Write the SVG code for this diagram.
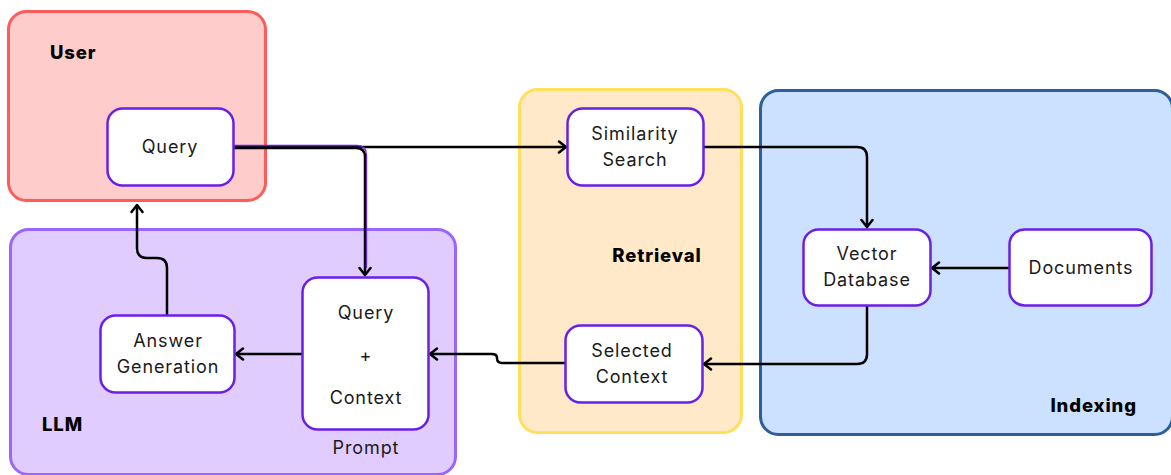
<svg xmlns="http://www.w3.org/2000/svg" width="1171" height="475" viewBox="0 0 1171 475">
  <style>
    .grp { stroke-width: 3; }
    .node { fill: #ffffff; stroke: #6a1fe6; stroke-width: 2.5; }
    .lbl { font-family: Inter, "Open Sans", sans-serif; font-size: 18px; letter-spacing: 0.9px; fill: #1a1a1a; text-anchor: middle; }
    .title { font-family: Inter, "Open Sans", sans-serif; font-size: 18.5px; letter-spacing: 0.9px; font-weight: 800; fill: #000000; }
    .edge { fill: none; stroke: #000000; stroke-width: 2.5; stroke-linejoin: round; }
  </style>
  <defs>
    <marker id="arrow" markerUnits="userSpaceOnUse" viewBox="-10 -7 12 14" markerWidth="12" markerHeight="14" refX="0" refY="0" orient="auto">
      <path d="M-7,-5.5 L0,0 L-7,5.5" fill="none" stroke="#000000" stroke-width="2.5" stroke-linejoin="round" stroke-linecap="round"/>
    </marker>
  </defs>

  <!-- group containers -->
  <g id="group-user">
    <rect class="grp" x="8.5" y="11.5" width="257" height="189" rx="18" fill="#ffcccc" stroke="#ff5b5b"/>
    <text class="title" x="50" y="59">User</text>
  </g>
  <g id="group-llm">
    <rect class="grp" x="10.5" y="229.5" width="445" height="245" rx="18" fill="#e1ccff" stroke="#9966ff"/>
    <text class="title" x="42" y="431">LLM</text>
  </g>
  <g id="group-retrieval">
    <rect class="grp" x="519.5" y="89.5" width="222" height="343" rx="18" fill="#ffe9c8" stroke="#ffdf5c"/>
    <text class="title" x="657" y="262" text-anchor="middle">Retrieval</text>
  </g>
  <g id="group-indexing">
    <rect class="grp" x="760.5" y="90.5" width="412" height="344" rx="18" fill="#cce0ff" stroke="#2f5e9c"/>
    <text class="title" x="1137" y="412" text-anchor="end">Indexing</text>
  </g>

  <!-- connectors -->
  <g id="connectors">
    <path class="edge" d="M234 147 H566" marker-end="url(#arrow)"/>
    <path class="edge" d="M234 148 H356 Q365 148 365 157 V275" marker-end="url(#arrow)"/>
    <path d="M234 145.5 H357 Q366.5 145.5 366.5 155 V268" fill="none" stroke="#6a1fe6" stroke-width="1.3"/>
    <path class="edge" d="M704 147 H857 Q867 147 867 157 V227" marker-end="url(#arrow)"/>
    <path class="edge" d="M1009 268 H932" marker-end="url(#arrow)"/>
    <path class="edge" d="M867 306 V354 Q867 364 857 364 H704" marker-end="url(#arrow)"/>
    <path class="edge" d="M565 363 H502 Q497 363 497 358 Q497 354 492 354 H430" marker-end="url(#arrow)"/>
    <path class="edge" d="M302 354 H236" marker-end="url(#arrow)"/>
    <path class="edge" d="M167 315 V268 Q167 258 157 258 H147 Q137 258 137 248 V205" marker-end="url(#arrow)"/>
  </g>

  <!-- nodes -->
  <g id="node-query">
    <rect class="node" x="107.5" y="108.5" width="126" height="77" rx="15"/>
    <text class="lbl" x="170" y="153">Query</text>
  </g>
  <g id="node-similarity-search">
    <rect class="node" x="567.5" y="108.5" width="136" height="77" rx="15"/>
    <text class="lbl" x="635" y="140">Similarity</text>
    <text class="lbl" x="635" y="166">Search</text>
  </g>
  <g id="node-vector-database">
    <rect class="node" x="803.5" y="229.5" width="127" height="76" rx="15"/>
    <text class="lbl" x="867" y="260">Vector</text>
    <text class="lbl" x="867" y="286">Database</text>
  </g>
  <g id="node-documents">
    <rect class="node" x="1009.5" y="229.5" width="142" height="76" rx="15"/>
    <text class="lbl" x="1081" y="274">Documents</text>
  </g>
  <g id="node-selected-context">
    <rect class="node" x="565.5" y="325.5" width="137" height="77" rx="15"/>
    <text class="lbl" x="632" y="357">Selected</text>
    <text class="lbl" x="632" y="383">Context</text>
  </g>
  <g id="node-prompt">
    <rect class="node" x="302.5" y="277.5" width="126" height="152" rx="15"/>
    <text class="lbl" x="366" y="319">Query</text>
    <text class="lbl" x="366" y="362">+</text>
    <text class="lbl" x="366" y="404">Context</text>
    <text class="lbl" x="366" y="454">Prompt</text>
  </g>
  <g id="node-answer-generation">
    <rect class="node" x="100.5" y="315.5" width="134" height="77" rx="15"/>
    <text class="lbl" x="168" y="347">Answer</text>
    <text class="lbl" x="168" y="373">Generation</text>
  </g>
</svg>
